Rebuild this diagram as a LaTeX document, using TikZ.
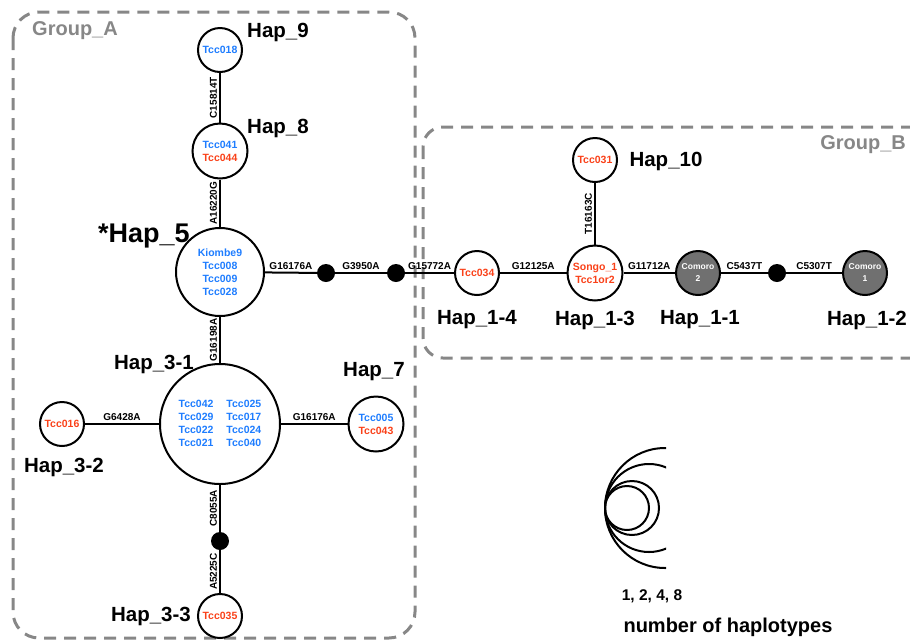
\documentclass[tikz,border=0pt]{standalone}
\usepackage{fontspec}
\setmainfont{Liberation Sans}
\definecolor{hapblue}{RGB}{30,125,255}
\definecolor{hapred}{RGB}{250,65,25}
\definecolor{grpgray}{RGB}{135,135,135}
\definecolor{comgray}{RGB}{112,112,112}
\begin{document}
\begin{tikzpicture}[x=1pt,y=-1pt,
  hap/.style={circle,draw=black,line width=2pt,fill=white,inner sep=0pt,align=center,
    font=\fontsize{10.5}{13}\selectfont\bfseries},
  r1/.style={hap,minimum size=44pt},
  r2/.style={hap,minimum size=55pt},
  r4/.style={hap,minimum size=88pt},
  r8/.style={hap,minimum size=120pt},
  comoro/.style={r1,fill=comgray,text=white,font=\fontsize{8.5}{12}\selectfont\bfseries},
  mut/.style={circle,fill=black,inner sep=0pt,minimum size=18pt},
  link/.style={line width=2pt},
  hname/.style={font=\fontsize{20.5}{24}\selectfont\bfseries,inner sep=0pt},
  snp/.style={font=\fontsize{10}{12}\selectfont\bfseries,inner sep=2pt},
  snph/.style={snp,midway,anchor=south},
  snpv/.style={snp,midway,rotate=90,anchor=south},
  grp/.style={draw=grpgray,line width=3pt,dash pattern=on 12pt off 8pt,rounded corners=26pt},
  grplabel/.style={text=grpgray,font=\fontsize{20}{24}\selectfont\bfseries,inner sep=0pt}
]
\useasboundingbox (0,0) rectangle (910,641);

% group outlines
\begin{scope}
\clip (0,0) rectangle (910,641);
\draw[grp] (13,12) rectangle (415,638);
\draw[grp,rounded corners=20pt] (423,127) rectangle (950,358);
\end{scope}
\node[grplabel] (gA) at (75,31) {Group\_A};
\node[grplabel,anchor=east] (gB) at (906,145) {Group\_B};

% haplotype circles
\node[r1] (h9) at (220,50) {\textcolor{hapblue}{Tcc018}};
\node[r2] (h8) at (220,151) {\textcolor{hapblue}{Tcc041}\\\textcolor{hapred}{Tcc044}};
\node[r4] (h5) at (220,272) {\textcolor{hapblue}{Kiombe9}\\\textcolor{hapblue}{Tcc008}\\\textcolor{hapblue}{Tcc009}\\\textcolor{hapblue}{Tcc028}};
\node[r8] (h31) at (220,424) {\color{hapblue}\begin{tabular}{@{}l@{\hspace{13pt}}l@{}}Tcc042 & Tcc025\\ Tcc029 & Tcc017\\ Tcc022 & Tcc024\\ Tcc021 & Tcc040\end{tabular}};
\node[r1] (h32) at (62,424) {\textcolor{hapred}{Tcc016}};
\node[r2] (h7) at (376,424) {\textcolor{hapblue}{Tcc005}\\\textcolor{hapred}{Tcc043}};
\node[mut] (m3) at (220,541) {};
\node[r1] (h33) at (220,616) {\textcolor{hapred}{Tcc035}};
\node[mut] (m1) at (326,273) {};
\node[mut] (m2) at (396,273) {};
\node[r1] (h14) at (477,273) {\textcolor{hapred}{Tcc034}};
\node[r2] (h13) at (595,273) {\textcolor{hapred}{Songo\_1}\\\textcolor{hapred}{Tcc1or2}};
\node[r1] (h10) at (595,160) {\textcolor{hapred}{Tcc031}};
\node[comoro] (h11) at (698,273) {Comoro\\2};
\node[mut] (m4) at (777,273) {};
\node[comoro] (h12) at (865,273) {Comoro\\1};

% connectors with mutation labels
\draw[link] (h9) -- (h8) node[snpv] {C15814T};
\draw[link] (h8) -- (h5) node[snpv] {A16220G};
\draw[link] (h31) -- (h5) node[snpv] {G16198A};
\draw[link] (m3) -- (h31) node[snpv] {C8055A};
\draw[link] (h33) -- (m3) node[snpv] {A5225C};
\draw[link] (h32) -- (h31) node[snph] {G6428A};
\draw[link] (h31) -- (h7) node[snph] {G16176A};
\draw[link] (h5) -- (m1) node[snph] {G16176A};
\draw[link] (m1) -- (m2) node[snph] {G3950A};
\draw[link] (m2) -- (h14) node[snph] {G15772A};
\draw[link] (h14) -- (h13) node[snph] {G12125A};
\draw[link] (h13) -- (h10) node[snpv] {T16163C};
\draw[link] (h13) -- (h11) node[snph] {G11712A};
\draw[link] (h11) -- (m4) node[snph] {C5437T};
\draw[link] (m4) -- (h12) node[snph] {C5307T};

% haplotype names
\node[hname] (n9) at (278,32) {Hap\_9};
\node[hname] (n8) at (278,128) {Hap\_8};
\node[hname,font=\fontsize{27}{30}\selectfont\bfseries] (n5) at (144,236) {*Hap\_5};
\node[hname] (n31) at (154,364) {Hap\_3-1};
\node[hname] (n7) at (374,372) {Hap\_7};
\node[hname] (n32) at (64,467) {Hap\_3-2};
\node[hname] (n33) at (151,616) {Hap\_3-3};
\node[hname] (n10) at (666,161) {Hap\_10};
\node[hname] (n14) at (477,320) {Hap\_1-4};
\node[hname] (n13) at (595,320) {Hap\_1-3};
\node[hname] (n11) at (700,320) {Hap\_1-1};
\node[hname] (n12) at (867,320) {Hap\_1-2};

% size legend
\begin{scope}
\clip (590,440) rectangle (666,580);
\foreach \r in {22,27,44,60}
  \draw[line width=2pt] (605+\r,508) circle[radius=\r];
\end{scope}
\node[font=\fontsize{15.5}{18}\selectfont\bfseries,inner sep=0pt] (lg1) at (652,596) {1, 2, 4, 8};
\node[font=\fontsize{20}{24}\selectfont\bfseries,inner sep=0pt] (lg2) at (728,627) {number of haplotypes};
\end{tikzpicture}
\end{document}
